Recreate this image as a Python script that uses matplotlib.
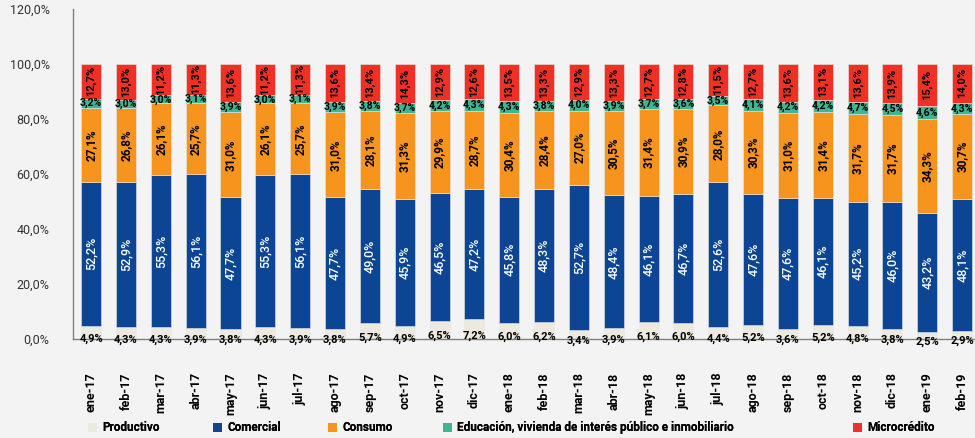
import numpy as np
import matplotlib.pyplot as plt
from matplotlib.patches import Patch

plt.rcParams['font.family'] = ['Roboto', 'DejaVu Sans']

# datos (% de la cartera)
meses = ['ene-17', 'feb-17', 'mar-17', 'abr-17', 'may-17', 'jun-17', 'jul-17',
         'ago-17', 'sep-17', 'oct-17', 'nov-17', 'dic-17', 'ene-18', 'feb-18',
         'mar-18', 'abr-18', 'may-18', 'jun-18', 'jul-18', 'ago-18', 'sep-18',
         'oct-18', 'nov-18', 'dic-18', 'ene-19', 'feb-19']
productivo = [4.9, 4.3, 4.3, 3.9, 3.8, 4.3, 3.9, 3.8, 5.7, 4.9, 6.5, 7.2, 6.0,
              6.2, 3.4, 3.9, 6.1, 6.0, 4.4, 5.2, 3.6, 5.2, 4.8, 3.8, 2.5, 2.9]
comercial = [52.2, 52.9, 55.3, 56.1, 47.7, 55.3, 56.1, 47.7, 49.0, 45.9, 46.5,
             47.2, 45.8, 48.3, 52.7, 48.4, 46.1, 46.7, 52.6, 47.6, 47.6, 46.1,
             45.2, 46.0, 43.2, 48.1]
consumo = [27.1, 26.8, 26.1, 25.7, 31.0, 26.1, 25.7, 31.0, 28.1, 31.3, 29.9,
           28.7, 30.4, 28.4, 27.0, 30.5, 31.4, 30.9, 28.0, 30.3, 31.0, 31.4,
           31.7, 31.7, 34.3, 30.7]
educacion = [3.2, 3.0, 3.0, 3.1, 3.9, 3.0, 3.1, 3.9, 3.8, 3.7, 4.2, 4.3, 4.3,
             3.8, 4.0, 3.9, 3.7, 3.6, 3.5, 4.1, 4.2, 4.2, 4.7, 4.5, 4.6, 4.3]
microcredito = [12.7, 13.0, 11.2, 11.3, 13.6, 11.2, 11.3, 13.6, 13.4, 14.3,
                12.9, 12.6, 13.5, 13.3, 12.9, 13.3, 12.7, 12.8, 11.5, 12.7,
                13.6, 13.1, 13.6, 13.9, 15.4, 14.0]

series = [('Productivo', productivo, '#ECEADF'),
          ('Comercial', comercial, '#0D4595'),
          ('Consumo', consumo, '#F7941D'),
          ('Educación, vivienda de interés público e inmobiliario', educacion, '#3FB593'),
          ('Microcrédito', microcredito, '#EE3124')]

def fmt(v):
    return ('%.1f%%' % v).replace('.', ',')

fig = plt.figure(figsize=(9.75, 4.38), dpi=100)
fig.patch.set_facecolor('#F3F3F3')
ax = fig.add_axes([0.075, 0.226, 0.925, 0.753])
ax.set_facecolor('#F3F3F3')

x = np.arange(len(meses))
base = np.zeros(len(meses))
for name, vals, color in series:
    vals = np.array(vals)
    ax.bar(x, vals / 100, 0.575, bottom=base / 100, color=color,
           edgecolor='#E8E8E8', linewidth=0.4, zorder=2)
    for i, v in enumerate(vals):
        yc = (base[i] + v / 2) / 100
        if name == 'Productivo':
            ax.annotate(fmt(v), (i, yc), xytext=(0, -4.5), textcoords='offset points',
                        ha='center', va='center', fontsize=8, fontweight='bold', zorder=4)
        elif name.startswith('Educ'):
            ax.text(i, yc, fmt(v), ha='center', va='center', fontsize=7.5,
                    fontweight='bold', zorder=4)
        elif name == 'Comercial':
            ax.text(i, yc, fmt(v), ha='center', va='center', rotation=90,
                    fontsize=9, fontweight='medium', color='white', zorder=4)
        elif name == 'Consumo':
            ax.text(i, yc, fmt(v), ha='center', va='center', rotation=90,
                    fontsize=8.5, fontweight='bold', zorder=4)
        else:
            ax.text(i, yc, fmt(v), ha='center', va='center', rotation=90,
                    fontsize=8, fontweight='bold', zorder=4)
    base += vals

ax.set_xlim(-0.517, 25.37)
ax.set_ylim(0, 1.2)
ax.set_yticks(np.arange(0, 1.21, 0.2))
ax.set_yticklabels([fmt(t * 100) for t in np.arange(0, 1.21, 0.2)],
                   fontsize=9, color='#333333')
ax.set_xticks(x)
ax.set_xticklabels(meses, rotation=90, fontsize=9, fontweight='bold')
ax.tick_params(length=0)
ax.tick_params(axis='x', pad=24)
ax.tick_params(axis='y', pad=17)
for s in ['top', 'right']:
    ax.spines[s].set_visible(False)
for s in ['left', 'bottom']:
    ax.spines[s].set_color('#7F7F7F')
    ax.spines[s].set_linewidth(1)
ax.spines['bottom'].set_zorder(3)

# leyenda: una entrada por posición, como en el original
leg_x = [88, 213, 328, 443, 853]
for (name, _, color), px in zip(series, leg_x):
    lg = fig.legend(handles=[Patch(facecolor=color, label=name)], loc='center left',
                    bbox_to_anchor=(px / 975, 0.023), frameon=False, borderpad=0,
                    borderaxespad=0, handlelength=0.75, handleheight=0.75,
                    handletextpad=0.45, prop={'size': 8.5, 'weight': 'bold'})
    fig.add_artist(lg)

fig.savefig('out.png', dpi=100, facecolor=fig.get_facecolor())
